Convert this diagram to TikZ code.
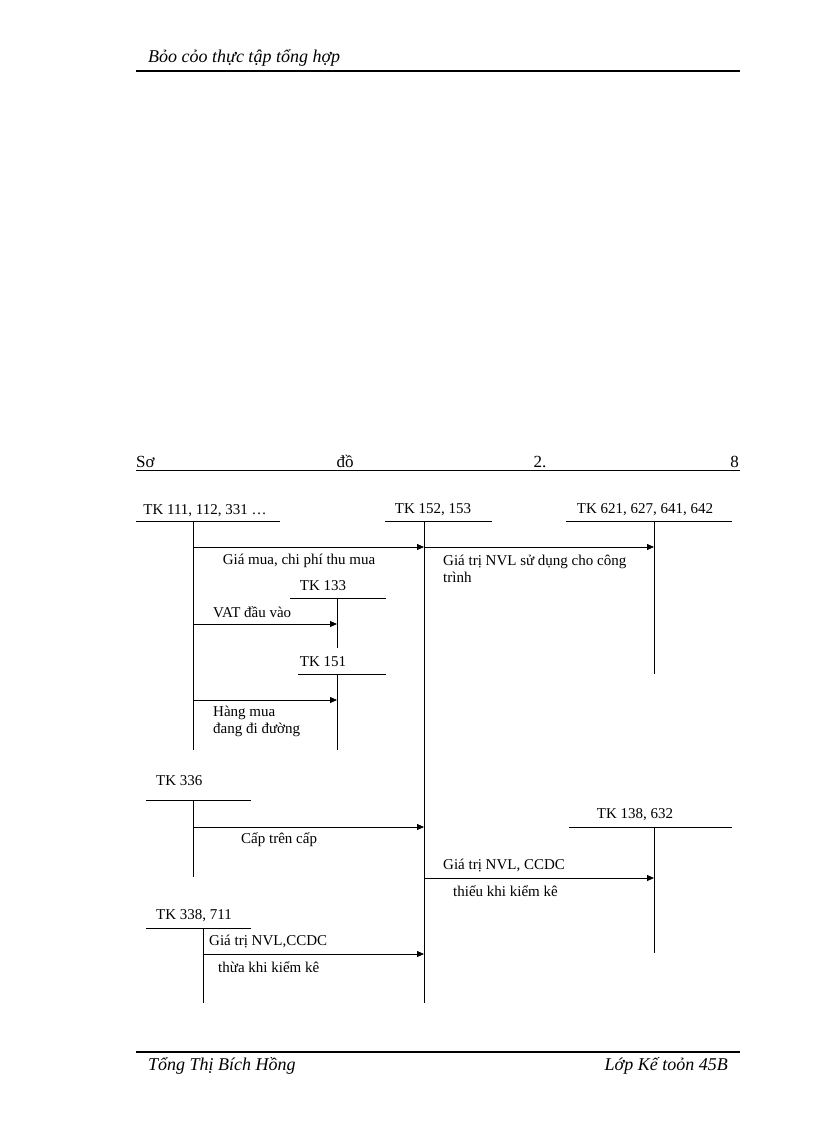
\documentclass[tikz,border=0pt]{standalone}
\usepackage{fontspec}
\setmainfont{Liberation Serif}
\usetikzlibrary{arrows.meta}
\begin{document}
\begin{tikzpicture}[x=1pt,y=-1pt,
  every node/.style={font=\fontsize{15}{17}\selectfont,inner sep=0pt},
  acc/.style={line width=0.8pt},
  arr/.style={line width=0.8pt,-{Triangle[length=7pt,width=6pt]}},
  lbl/.style={anchor=west,align=left},
  ttl/.style={font=\fontsize{17}{19}\selectfont}]
\useasboundingbox (0,0) rectangle (816,1123);
% header / footer
\node[anchor=west,font=\fontsize{18}{20}\selectfont\itshape] (hd) at (148,58) {Bỏo cỏo thực tập tổng hợp};
\draw[line width=1.8pt] (136,71) -- (740,71);
\draw[line width=1.8pt] (136,1052) -- (740,1052);
\node[anchor=west,font=\fontsize{18}{20}\selectfont\itshape] (ft1) at (148,1066) {Tổng Thị Bích Hồng};
\node[anchor=east,font=\fontsize{18}{20}\selectfont\itshape] (ft2) at (728,1066) {Lớp Kế toỏn 45B};
% title
\node[ttl,anchor=base west] (t1) at (136,467) {Sơ};
\node[ttl,anchor=base] (t2) at (345,467) {đồ};
\node[ttl,anchor=base] (t3) at (540,467) {2.};
\node[ttl,anchor=base east] (t4) at (739,467) {8};
\draw[line width=0.6pt] (136,470) -- (740,470);
% accounts
\node (a111) at (205,511) {TK 111, 112, 331 …};
\draw[acc] (136,521) -- (280,521);
\coordinate (v111t) at (193,521); \coordinate (v111b) at (193,750);
\draw[acc] (v111t) -- (v111b);

\node (a152) at (433,510) {TK 152, 153};
\draw[acc] (385,521) -- (492,521);
\coordinate (v152t) at (424,521); \coordinate (v152b) at (424,1003);
\draw[acc] (v152t) -- (v152b);

\node (a621) at (645,510) {TK 621, 627, 641, 642};
\draw[acc] (566,521) -- (732,521);
\coordinate (v621t) at (654,521); \coordinate (v621b) at (654,674);
\draw[acc] (v621t) -- (v621b);

\node (a133) at (323,586) {TK 133};
\draw[acc] (290,598) -- (386,598);
\draw[acc] (337,598) -- (337,648);

\node (a151) at (323,662) {TK 151};
\draw[acc] (298,674) -- (386,674);
\draw[acc] (337,674) -- (337,750);

\node[anchor=west] (a336) at (156,781) {TK 336};
\draw[acc] (146,800) -- (251,800);
\draw[acc] (193,800) -- (193,877);

\node (a138) at (635,815) {TK 138, 632};
\draw[acc] (569,827) -- (732,827);
\draw[acc] (654,827) -- (654,953);

\node[anchor=west] (a338) at (156,916) {TK 338, 711};
\draw[acc] (146,928) -- (251,928);
\draw[acc] (203,928) -- (203,1003);

% arrows
\draw[arr] (193,547) -- (424,547);
\node (l1) at (299,561) {Giá mua, chi phí thu mua};
\draw[arr] (424,547) -- (654,547);
\node[lbl] (l2) at (443,569) {Giá trị NVL sử dụng cho công\\trình};
\draw[arr] (193,624) -- (337,624);
\node[lbl] (l3) at (213,612) {VAT đầu vào};
\draw[arr] (193,700) -- (337,700);
\node[lbl] (l4) at (213,721) {Hàng mua\\đang đi đường};
\draw[arr] (193,827) -- (424,827);
\node[lbl] (l5) at (241,840) {Cấp trên cấp};
\draw[arr] (424,878) -- (654,878);
\node[lbl] (l6) at (443,866) {Giá trị NVL, CCDC};
\node[lbl] (l7) at (453,891) {thiếu khi kiểm kê};
\draw[arr] (203,954) -- (424,954);
\node[lbl] (l8) at (209,942) {Giá trị NVL,CCDC};
\node[lbl] (l9) at (218,967) {thừa khi kiểm kê};
\end{tikzpicture}
\end{document}
